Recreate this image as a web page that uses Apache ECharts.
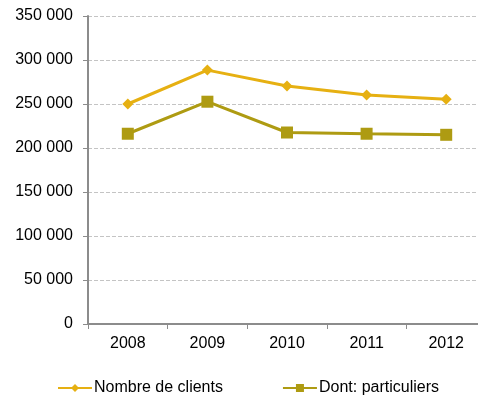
<!DOCTYPE html>
<html>
<head>
<meta charset="utf-8">
<script src="https://cdn.jsdelivr.net/npm/echarts@6/dist/echarts.min.js"></script>
<style>
  html, body { margin: 0; padding: 0; background: #fff; overflow: hidden; }
  /* canvas is slightly wider than the window: the plot runs off the right edge */
  #chart { width: 486px; height: 396px; }
</style>
</head>
<body>
<div id="chart"></div>
<script>
// Years on the category axis
const years = ['2008', '2009', '2010', '2011', '2012'];
// Total number of clients per year
const nombreClients = [250000, 288500, 270400, 260200, 255300];
// Of which: private individuals
const particuliers = [216200, 252600, 217600, 216200, 215000];
// Series names shown in the legend
const seriesNames = ['Nombre de clients', 'Dont: particuliers'];

const fontFamily = '"Liberation Sans", Arial, sans-serif';
const axisGray = '#8c8c8c';

function fmtThousands(v) {
  return String(v).replace(/\B(?=(\d{3})+(?!\d))/g, ' ');
}

const chart = echarts.init(document.getElementById('chart'), null, { renderer: 'canvas' });
chart.setOption({
  animation: false,
  backgroundColor: '#ffffff',
  textStyle: { fontFamily: fontFamily },
  grid: { left: 88, top: 16, bottom: 72, right: 0, containLabel: false },
  legend: {
    data: seriesNames,
    left: 57,
    top: 380,
    padding: 0,
    itemWidth: 34,
    itemHeight: 10,
    itemGap: 59,
    textStyle: { fontSize: 16, color: '#000', fontFamily: fontFamily, padding: [0, 0, 0, -3] }
  },
  xAxis: {
    type: 'category',
    data: years,
    boundaryGap: true,
    axisLine: { lineStyle: { color: axisGray, width: 2 } },
    axisTick: { show: true, length: 5, lineStyle: { color: axisGray, width: 1 } },
    axisLabel: { fontSize: 16, color: '#000', margin: 12, fontFamily: fontFamily },
    splitLine: { show: false }
  },
  yAxis: {
    type: 'value',
    min: 0,
    max: 350000,
    interval: 50000,
    axisLine: { show: true, lineStyle: { color: axisGray, width: 2 } },
    axisTick: { show: true, length: 5, lineStyle: { color: axisGray, width: 1 } },
    axisLabel: {
      fontSize: 16, color: '#000', margin: 15, fontFamily: fontFamily,
      formatter: fmtThousands
    },
    splitLine: { show: true, lineStyle: { color: '#c4c4c4', type: [4, 2], width: 1 } }
  },
  series: [
    {
      name: seriesNames[0],
      type: 'line',
      data: nombreClients,
      symbol: 'diamond',
      symbolSize: 11,
      showAllSymbol: true,
      color: '#E6B012',
      lineStyle: { width: 3, color: '#E6B012' },
      itemStyle: { color: '#E6B012' },
      z: 3
    },
    {
      name: seriesNames[1],
      type: 'line',
      data: particuliers,
      symbol: 'rect',
      symbolSize: 12,
      showAllSymbol: true,
      color: '#AE9B12',
      lineStyle: { width: 3, color: '#AE9B12' },
      itemStyle: { color: '#AE9B12' },
      z: 2
    }
  ]
});
</script>
</body>
</html>
